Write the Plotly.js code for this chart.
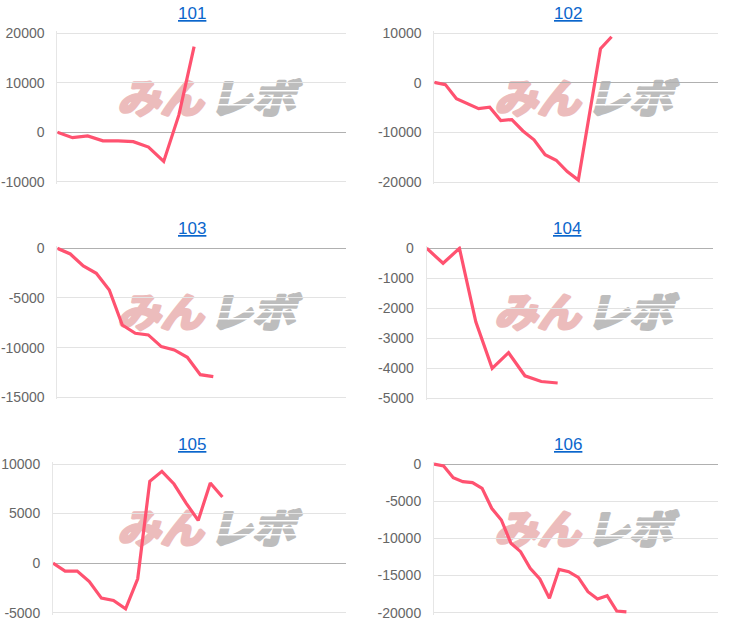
<!DOCTYPE html>
<html><head><meta charset="utf-8">
<script src="https://cdn.plot.ly/plotly-3.0.1.min.js"></script>
<style>html,body{margin:0;padding:0;background:#fff}#chart{width:729px;height:627px}</style>
</head><body><div id="chart"></div>
<script>
// ---- data ----
const titles = ['101', '102', '103', '104', '105', '106'];
const series101 = [0, -1100, -750, -1750, -1750, -1900, -3000, -5900, 3500, 17300];
const series102 = [100, -350, -3200, -4200, -5200, -4900, -7600, -7400, -9700, -11500, -14500, -15600, -17900, -19600, -6300, 6900, 9300];
const series103 = [0, -570, -1780, -2520, -4200, -7720, -8560, -8720, -9900, -10230, -10970, -12720, -12920];
const series104 = [0, -500, 0, -2450, -4000, -3480, -4250, -4440, -4490];
const series105 = [0, -800, -800, -1850, -3530, -3770, -4610, -1580, 8250, 9260, 7980, 6060, 4310, 8080, 6670];
const series106 = [0, -270, -1840, -2380, -2510, -3270, -5960, -7530, -10670, -11790, -14040, -15470, -18070, -14170, -14480, -15250, -17170, -18160, -17710, -19780, -19900];
const ticks101 = [-10000, 0, 10000, 20000];
const ticks102 = [-20000, -10000, 0, 10000];
const ticks103 = [-15000, -10000, -5000, 0];
const ticks104 = [-5000, -4000, -3000, -2000, -1000, 0];
const ticks105 = [-5000, 0, 5000, 10000];
const ticks106 = [-20000, -15000, -10000, -5000, 0];

const allSeries = [series101, series102, series103, series104, series105, series106];
const allTicks = [ticks101, ticks102, ticks103, ticks104, ticks105, ticks106];

// ---- layout geometry (pixels) ----
const W = 729, H = 627;
const boxes = [ // left, top, right, bottom
  [57.3, 33.3, 346, 181.7],
  [434.3, 33.3, 718.3, 182],
  [57.3, 248.3, 346, 397.3],
  [426.7, 248.3, 713, 398.3],
  [53, 464, 346, 612.7],
  [434, 464, 718.3, 612.7]
];
const xSpacing = [15.2, 11.08, 13.0, 16.37, 12.1, 9.62];
const titlePos = [[191.7, 13.5], [567.7, 13.5], [191.7, 228.5], [567.3, 228.5], [191.7, 444], [567.7, 444]];
const markCenters = [[209, 98], [586, 98], [209, 312], [586, 312], [209, 528], [586, 529]];
const PAD = 2; // px of extra room so edge gridlines are drawn

const lineColor = '#ff5270';
const fontFam = 'Liberation Sans, Arial, sans-serif';

// watermark svg
const wm = `<svg xmlns='http://www.w3.org/2000/svg' width='190' height='40' viewBox='0 0 190 40'>
<g transform='skewX(-14) translate(8,0)' font-family='Noto Sans CJK JP' font-weight='bold' font-size='40' stroke-linejoin='round'>
<text x='4' y='35' fill='#ecbcbc' stroke='#ecbcbc' stroke-width='3.2' textLength='86' lengthAdjust='spacingAndGlyphs'>みん</text>
<text x='96' y='35' fill='#bdbdbd' stroke='#bdbdbd' stroke-width='3.2' textLength='86' lengthAdjust='spacingAndGlyphs'>レボ</text>
</g>
<g fill='#ffffff'>
<rect x='96' y='12' width='96' height='1.5'/>
<rect x='96' y='19' width='96' height='1.5'/>
<rect x='96' y='26' width='96' height='1.5'/>
</g>
</svg>`;
const wmSrc = 'data:image/svg+xml;charset=utf-8,' + encodeURIComponent(wm);

const data = [];
const layout = {
  width: W, height: H,
  margin: {l: 0, r: 0, t: 0, b: 0},
  paper_bgcolor: '#ffffff',
  plot_bgcolor: 'rgba(0,0,0,0)',
  showlegend: false,
  annotations: [],
  images: []
};

allSeries.forEach((ys, i) => {
  const n = i + 1;
  const sfx = n === 1 ? '' : String(n);
  const [l, t, r, b] = boxes[i];
  const xMax = (r - l) / xSpacing[i];
  const tk = allTicks[i];
  const lo = tk[0], hi = tk[tk.length - 1];
  const ppu = (b - t) / (hi - lo);
  data.push({
    type: 'scatter', mode: 'lines',
    y: ys,
    xaxis: 'x' + sfx, yaxis: 'y' + sfx,
    line: {color: lineColor, width: 3.2},
    hoverinfo: 'skip'
  });
  layout['xaxis' + sfx] = {
    domain: [l / W, r / W], range: [0, xMax],
    showgrid: false, zeroline: false, showticklabels: false, showline: false, ticks: '',
    anchor: 'y' + sfx, fixedrange: true
  };
  layout['yaxis' + sfx] = {
    domain: [1 - (b + PAD) / H, 1 - (t - PAD) / H],
    range: [lo - PAD / ppu, hi + PAD / ppu],
    tickvals: tk, ticktext: tk.map(String),
    tickfont: {family: fontFam, size: 14, color: '#666666'},
    ticks: 'outside', ticklen: 9, tickcolor: 'rgba(0,0,0,0)',
    showgrid: true, gridcolor: '#e3e3e3', gridwidth: 1,
    zeroline: true, zerolinecolor: '#b0b0b0', zerolinewidth: 1,
    showline: true, linecolor: '#e6e6e6', linewidth: 1,
    anchor: 'x' + sfx, fixedrange: true
  };
  layout.annotations.push({
    text: '<u>' + titles[i] + '</u>',
    x: titlePos[i][0] / W, y: 1 - titlePos[i][1] / H,
    xref: 'paper', yref: 'paper', xanchor: 'center', yanchor: 'middle',
    showarrow: false,
    font: {family: fontFam, size: 17, color: '#0b66cc'}
  });
  layout.images.push({
    source: wmSrc, xref: 'paper', yref: 'paper',
    x: (markCenters[i][0] - 95) / W, y: 1 - (markCenters[i][1] - 20) / H,
    sizex: 190 / W, sizey: 40 / H,
    xanchor: 'left', yanchor: 'top', sizing: 'stretch', layer: 'below'
  });
});

Plotly.newPlot('chart', data, layout, {staticPlot: true, displayModeBar: false});
</script>
</body></html>
